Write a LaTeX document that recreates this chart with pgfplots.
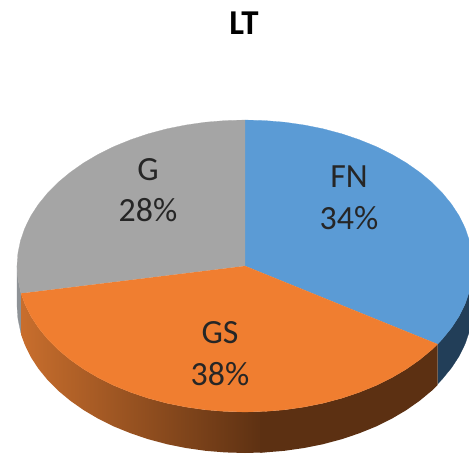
\documentclass[border=0pt]{standalone}
\usepackage{pgfplots}
\pgfplotsset{compat=1.18}
\usepackage{fontspec}
\setmainfont{Carlito}

\definecolor{fnblue}{HTML}{5B9BD5}
\definecolor{gsorange}{HTML}{F07E30}
\definecolor{ggray}{HTML}{A5A5A5}
\definecolor{fnside}{HTML}{223E58}
\definecolor{gside}{HTML}{8E9296}
\definecolor{gsdark}{HTML}{5C3012}
\definecolor{gslight}{HTML}{C86E2D}

\tikzset{lbl/.style={text=black!85, font=\fontsize{34}{34}\selectfont}}

\begin{document}
\begin{tikzpicture}
\begin{axis}[
    axis line style={draw=none},
    ticks=none,
    scale only axis,
    width=469bp,
    height=454bp,
    xmin=0, xmax=469,
    ymin=0, ymax=454,
    y dir=reverse,
    no markers,
]

% side walls
\addplot[fill=gside, draw=gside, line width=0.2pt] coordinates {
    (21,293.4)(20.5,291.3)(17.9,278.7)(17,266)
    (17,306)(17.9,318.7)(20.5,331.3)(21,333.4)
};
\addplot[fill=fnside, draw=fnside, line width=0.2pt] coordinates {
    (437.5,344.2)(442.4,339)(451.6,327.7)(459.3,315.9)(465.2,303.8)(469,292.5)
    (469,332.5)(465.2,343.8)(459.3,355.9)(451.6,367.7)(442.4,379)(437.5,384.2)
};
\addplot[left color=gslight, right color=gsdark, draw=none] coordinates {
    (21,293.4)(24.8,303.8)(30.7,315.9)(38.4,327.7)(47.6,339)(58.2,349.7)(70.4,359.8)
    (83.8,369.2)(98.4,377.8)(114.2,385.6)(131,392.4)(148.6,398.3)(167,403.2)(186,407)
    (205.4,409.8)(225.1,411.4)(245,412)(264.9,411.4)
    (264.9,452.4)(245,453)(225.1,452.4)(205.4,450.8)(186,448)(167,444.2)(148.6,439.3)
    (131,433.4)(114.2,426.6)(98.4,418.8)(83.8,410.2)(70.4,400.8)(58.2,390.7)(47.6,380)
    (38.4,368.7)(30.7,356.9)(24.8,344.8)(21,334.4)
};
\addplot[fill=gsdark, draw=none] coordinates {
    (260,411.6)(264.9,411.4)(284.6,409.8)(304,407)(323,403.2)(341.4,398.3)(359,392.4)(375.8,385.6)
    (391.6,377.8)(406.2,369.2)(419.6,359.8)(431.8,349.7)(437.5,344.2)
    (437.5,385.2)(431.8,390.7)(419.6,400.8)(406.2,410.2)(391.6,418.8)(375.8,426.6)
    (359,433.4)(341.4,439.3)(323,444.2)(304,448)(284.6,450.8)(264.9,452.4)(260,452.6)
};

% FN 34%
\addplot[fill=fnblue, draw=fnblue, line width=0.2pt] coordinates {
    (245,266)(245,120)(264.9,120.6)(284.6,122.2)(304,125)(323,128.8)(341.4,133.7)(359,139.6)
    (375.8,146.4)(391.6,154.2)(406.2,162.8)(419.6,172.2)(431.8,182.3)(442.4,193)(451.6,204.3)
    (459.3,216.1)(465.2,228.2)(469,239.5)(469,292.5)
    (465.2,303.8)(459.3,315.9)(451.6,327.7)(442.4,339)(437.5,344.2)
};
% G 28%
\addplot[fill=ggray, draw=ggray, line width=0.2pt] coordinates {
    (245,266)(21,293.4)(20.5,291.3)(17.9,278.7)(17,266)(17.9,253.3)(20.5,240.7)(24.8,228.2)
    (30.7,216.1)(38.4,204.3)(47.6,193)(58.2,182.3)(70.4,172.2)(83.8,162.8)(98.4,154.2)
    (114.2,146.4)(131,139.6)(148.6,133.7)(167,128.8)(186,125)(205.4,122.2)(225.1,120.6)(245,120)
};
% GS 38%
\addplot[fill=gsorange, draw=gsorange, line width=0.2pt] coordinates {
    (245,266)(437.5,344.2)(431.8,349.7)(419.6,359.8)(406.2,369.2)(391.6,377.8)(375.8,385.6)
    (359,392.4)(341.4,398.3)(323,403.2)(304,407)(284.6,409.8)(264.9,411.4)(245,412)
    (225.1,411.4)(205.4,409.8)(186,407)(167,403.2)(148.6,398.3)(131,392.4)(114.2,385.6)
    (98.4,377.8)(83.8,369.2)(70.4,359.8)(58.2,349.7)(47.6,339)(38.4,327.7)(30.7,315.9)
    (24.8,303.8)(21,293.4)
};

\node[font=\fontsize{35}{35}\selectfont\bfseries, text=black] at (axis cs:244,23) {LT};
\node[lbl] at (axis cs:148,170) {G};
\node[lbl] at (axis cs:148,210) {28\%};
\node[lbl] at (axis cs:349,177) {FN};
\node[lbl] at (axis cs:349,218) {34\%};
\node[lbl] at (axis cs:220,333) {GS};
\node[lbl] at (axis cs:220,374) {38\%};
\end{axis}
\end{tikzpicture}
\end{document}
